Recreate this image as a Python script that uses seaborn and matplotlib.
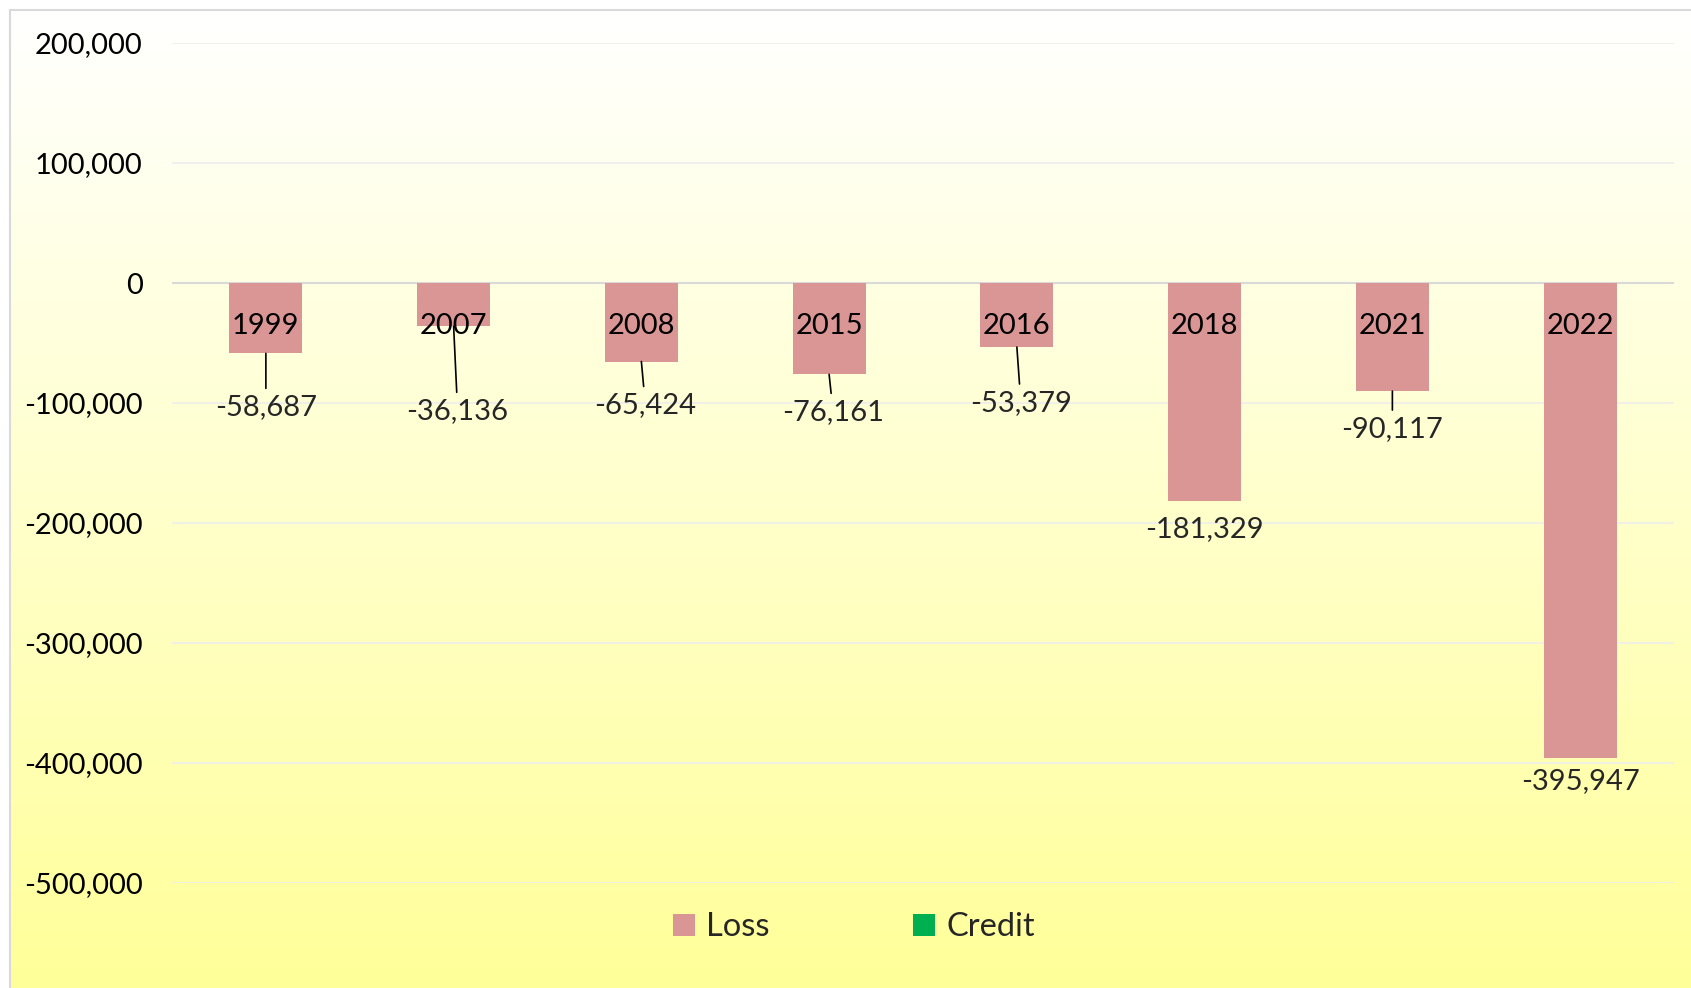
import matplotlib
matplotlib.use("Agg")
import matplotlib.pyplot as plt
import matplotlib.ticker as mticker
from matplotlib.patches import Rectangle
import numpy as np
import pandas as pd
import seaborn as sns

# Data
years = ["1999", "2007", "2008", "2015", "2016", "2018", "2021", "2022"]
loss = [-58687, -36136, -65424, -76161, -53379, -181329, -90117, -395947]
credit = [0, 0, 0, 0, 0, 0, 0, 0]
series = ["Loss", "Credit"]
y_ticks = [200000, 100000, 0, -100000, -200000, -300000, -400000, -500000]

# data labels were dragged below the bars (pixels down / sideways)
label_drop = [54, 85, 44, 38, 56, 28, 38, 23]
label_nudge = [0, 4, 4, 4, 4, 0, 0, 0]
leader = [True, True, True, True, True, False, True, False]

df = pd.DataFrame({
    "year": years * 2,
    "value": loss + credit,
    "series": ["Loss"] * len(years) + ["Credit"] * len(years),
})

sns.set_style("white")
plt.rcParams["font.family"] = ["Lato", "DejaVu Sans"]

W, H = 1691, 988
fig = plt.figure(figsize=(W / 100, H / 100), dpi=100)

# chart area background: white to pale yellow, thin grey frame
bg = fig.add_axes([0, 0, 1, 1], zorder=-10)
top = np.array([1.0, 1.0, 1.0])
bottom = np.array([1.0, 1.0, 0.6])
t = np.linspace(0, 1, 256)[:, None]
grad = top + (bottom - top) * t
bg.imshow(grad[:, None, :], aspect="auto", extent=[10 / W, 1, 0, 1 - 10 / H])
bg.add_patch(Rectangle((10 / W, -0.01), 1, 1 - 10 / H + 0.01,
                       fill=False, edgecolor="#D9D9D9", linewidth=1.5))
bg.set_xlim(0, 1)
bg.set_ylim(0, 1)
bg.axis("off")

ax = fig.add_axes([172 / W, 105 / H, 1502 / W, 840 / H])
ax.patch.set_alpha(0)

sns.barplot(
    data=df, x="year", y="value", hue="series", hue_order=series,
    palette=["#D99694", "#00B050"], saturation=1, dodge=False, width=0.39,
    linewidth=0, ax=ax,
)

ax.set_ylim(-500000, 200000)
ax.set_xlim(-0.5, len(years) - 0.5)
ax.set_yticks(y_ticks)
ax.yaxis.set_major_formatter(mticker.FuncFormatter(lambda v, p: f"{v:,.0f}"))
ax.set_xlabel("")
ax.set_ylabel("")

ax.set_axisbelow(True)
ax.yaxis.grid(True, color="#EEEEEE", linewidth=1.2)
ax.axhline(0, color="#D9D9D9", linewidth=1.5, zorder=0.8)
for s in ax.spines.values():
    s.set_visible(False)
ax.spines["bottom"].set_position(("data", 0))
ax.xaxis.set_zorder(3)
ax.tick_params(axis="y", length=0, pad=21, labelsize=21, labelcolor="black")
ax.tick_params(axis="x", length=0, pad=21.5, labelsize=21, labelcolor="black")

# Data labels with leader lines
for i, v in enumerate(loss):
    ax.annotate(
        f"{v:,}", xy=(i, v), xytext=(label_nudge[i], -label_drop[i]),
        textcoords="offset pixels", ha="center", va="center", fontsize=21,
        arrowprops=dict(arrowstyle="-", color="black", lw=1.2, shrinkA=2, shrinkB=0) if leader[i] else None,
        zorder=5,
    )

handles, labels = ax.get_legend_handles_labels()
ax.legend(
    handles, labels, loc="center", bbox_to_anchor=(854 / W, 1 - 927 / H),
    bbox_transform=fig.transFigure, ncol=2, frameon=False, fontsize=23.5,
    handlelength=0.66, handleheight=0.66, handletextpad=0.35, columnspacing=4.4,
)

plt.savefig("out.png", dpi=100)
